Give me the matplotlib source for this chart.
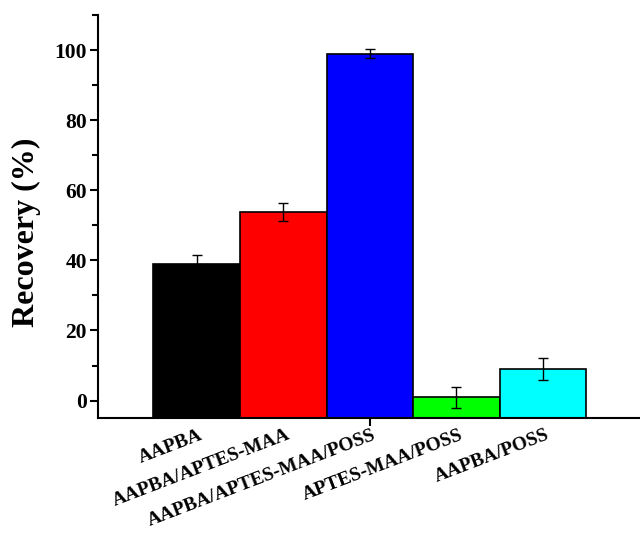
import matplotlib
matplotlib.use("Agg")
import matplotlib.pyplot as plt
import numpy as np
from matplotlib.ticker import FixedLocator

categories = ["AAPBA", "AAPBA/APTES-MAA", "AAPBA/APTES-MAA/POSS", "APTES-MAA/POSS", "AAPBA/POSS"]
values = [38.9, 53.8, 98.9, 1.0, 9.0]
errors = [2.6, 2.6, 1.3, 3.0, 3.0]
colors = ["#000000", "#ff0000", "#0000ff", "#00ff00", "#00ffff"]

plt.rcParams['font.family'] = ['Liberation Serif', 'DejaVu Serif']
plt.rcParams['font.weight'] = 'bold'

fig = plt.figure(figsize=(6.4, 5.36), dpi=100)
ax = fig.add_axes([0.153, 0.22, 0.847, 0.752])

ymin, ymax = -5, 110
x = np.arange(len(categories))
vals = np.array(values)
ax.bar(x, vals - ymin, bottom=ymin, width=1.0, color=colors, edgecolor='black', linewidth=1.2, zorder=2)
ax.errorbar(x, vals, yerr=errors, fmt='none', ecolor='black', elinewidth=1.0, capsize=3.5, capthick=1.0, zorder=3)

ax.set_xlim(-1.14, 5.12)
ax.set_ylim(ymin, ymax)

ax.spines['top'].set_visible(False)
ax.spines['right'].set_visible(False)
ax.spines['left'].set_linewidth(1.5)
ax.spines['bottom'].set_linewidth(1.5)

ax.yaxis.set_major_locator(FixedLocator([0, 20, 40, 60, 80, 100]))
ax.yaxis.set_minor_locator(FixedLocator([10, 30, 50, 70, 90, 110]))
ax.tick_params(axis='y', which='major', direction='out', length=6, width=1.5, labelsize=15.5, pad=2)
ax.tick_params(axis='y', which='minor', direction='out', length=4, width=1.5)
for lab in ax.get_yticklabels():
    lab.set_fontweight('bold')

ax.set_xticks([2])
ax.set_xticklabels([])
ax.tick_params(axis='x', which='major', direction='out', length=6, width=1.5)

for xi, name in zip(x, categories):
    ax.annotate(name, xy=(xi, 0), xycoords=('data', 'axes fraction'),
                xytext=(2, -6), textcoords='offset points',
                ha='right', va='top', rotation=21, rotation_mode='anchor',
                fontsize=14, fontweight='bold')

ax.set_ylabel("Recovery (%)", fontsize=23, fontweight='bold')
ax.yaxis.set_label_coords(-0.105, 0.46)

fig.savefig("out.png", dpi=100)
